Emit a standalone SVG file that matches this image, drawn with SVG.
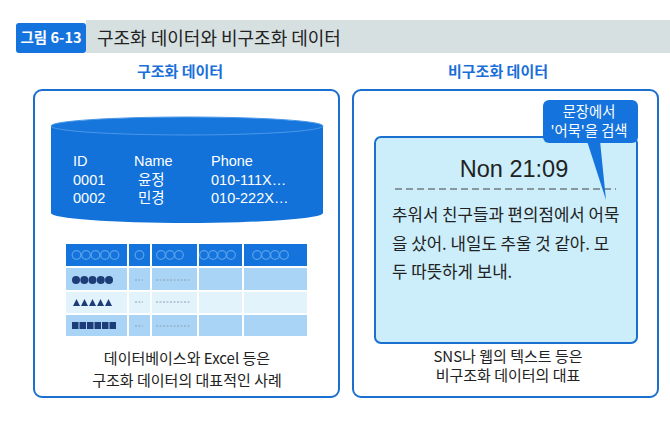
<svg xmlns="http://www.w3.org/2000/svg" width="670" height="422" viewBox="0 0 670 422">
<style>
.kr{font-family:"Noto Sans CJK KR","Liberation Sans",sans-serif;}
.lat{font-family:"Liberation Sans","Noto Sans CJK KR",sans-serif;}
.panel{fill:#ffffff;stroke:#1a6fcf;stroke-width:2;}
.sub{font-size:15px;font-weight:bold;fill:#1a6fd8;text-anchor:middle;}
.cap{font-size:15px;fill:#222;text-anchor:middle;}
.cyl{font-size:14.5px;fill:#ffffff;}
.hc{fill:none;stroke:#5aa2ea;stroke-width:1.2;}
.nav{fill:#1c3d78;}
.dash{stroke:#8aa0b4;stroke-width:1;stroke-dasharray:2 1.5;}
.body{font-size:16.8px;fill:#222;}
</style>
<rect x="0" y="0" width="670" height="422" fill="#ffffff"/>
<g id="title">
<rect x="86" y="20" width="584" height="33" fill="#d6e0e1"/>
<rect x="16" y="23" width="70" height="30" rx="3" fill="#1473dc"/>
<text x="51" y="43" class="kr" font-size="14.5" font-weight="bold" fill="#fff" text-anchor="middle">그림 6-13</text>
<text x="97" y="45" class="kr" font-size="18" fill="#222">구조화 데이터와 비구조화 데이터</text>
</g>
<g id="structured">
<text x="180" y="77" class="kr sub">구조화 데이터</text>
<rect x="34" y="90" width="305" height="307" rx="8" class="panel"/>
<g id="database">
<path d="M51,126 L51,213 A136,10 0 0 0 323,213 L323,126 Z" fill="#1272d9"/>
<ellipse cx="187" cy="126" rx="136" ry="9" fill="#1676dc" stroke="#4a98e8" stroke-width="1"/>
<text class="lat cyl"><tspan x="73" y="166">ID</tspan><tspan x="73" y="185">0001</tspan><tspan x="73" y="203">0002</tspan></text>
<text class="lat cyl"><tspan x="134" y="166">Name</tspan><tspan x="138" y="185">윤정</tspan><tspan x="138" y="203">민경</tspan></text>
<text class="lat cyl"><tspan x="211" y="166">Phone</tspan><tspan x="211" y="185">010-111X…</tspan><tspan x="211" y="203">010-222X…</tspan></text>
</g>
<g id="spreadsheet">
<rect x="66" y="244" width="61" height="22" fill="#1473dc"/>
<rect x="129" y="244" width="21" height="22" fill="#1473dc"/>
<rect x="152" y="244" width="45" height="22" fill="#1473dc"/>
<rect x="199" y="244" width="43" height="22" fill="#1473dc"/>
<rect x="244" y="244" width="63" height="22" fill="#1473dc"/>
<g fill="#a9d4f5">
<rect x="66" y="268" width="61" height="22"/><rect x="129" y="268" width="21" height="22"/><rect x="152" y="268" width="45" height="22"/><rect x="199" y="268" width="43" height="22"/><rect x="244" y="268" width="63" height="22"/>
<rect x="66" y="315" width="61" height="21"/><rect x="129" y="315" width="21" height="21"/><rect x="152" y="315" width="45" height="21"/><rect x="199" y="315" width="43" height="21"/><rect x="244" y="315" width="63" height="21"/>
</g>
<g fill="#e3f3fc">
<rect x="66" y="292" width="61" height="21"/><rect x="129" y="292" width="21" height="21"/><rect x="152" y="292" width="45" height="21"/><rect x="199" y="292" width="43" height="21"/><rect x="244" y="292" width="63" height="21"/>
</g>
<g class="hc">
<circle cx="76.5" cy="255" r="4.3"/><circle cx="86" cy="255" r="4.3"/><circle cx="95.5" cy="255" r="4.3"/><circle cx="105" cy="255" r="4.3"/><circle cx="114.5" cy="255" r="4.3"/>
<circle cx="139.5" cy="255" r="4.3"/>
<circle cx="161" cy="255" r="4.3"/><circle cx="170" cy="255" r="4.3"/><circle cx="179" cy="255" r="4.3"/>
<circle cx="204" cy="255" r="4.3"/><circle cx="213" cy="255" r="4.3"/><circle cx="222" cy="255" r="4.3"/><circle cx="231" cy="255" r="4.3"/>
<circle cx="257" cy="255" r="4.3"/><circle cx="266" cy="255" r="4.3"/><circle cx="275" cy="255" r="4.3"/><circle cx="284" cy="255" r="4.3"/>
</g>
<g class="nav">
<circle cx="76" cy="280" r="4"/><circle cx="84.3" cy="280" r="4"/><circle cx="92.5" cy="280" r="4"/><circle cx="100.8" cy="280" r="4"/><circle cx="109" cy="280" r="4"/>
<polygon points="73,306 76.5,299 80,306"/><polygon points="81,306 84.5,299 88,306"/><polygon points="89,306 92.5,299 96,306"/><polygon points="97,306 100.5,299 104,306"/><polygon points="105,306 108.5,299 112,306"/>
<rect x="72" y="322" width="6.5" height="7"/><rect x="79.5" y="322" width="6.5" height="7"/><rect x="87" y="322" width="6.5" height="7"/><rect x="94.5" y="322" width="6.5" height="7"/><rect x="102" y="322" width="6.5" height="7"/><rect x="109.5" y="322" width="6.5" height="7"/>
</g>
<g class="dash">
<line x1="135" y1="280" x2="143" y2="280"/><line x1="156" y1="280" x2="191" y2="280"/>
<line x1="135" y1="302" x2="143" y2="302"/><line x1="156" y1="302" x2="191" y2="302"/>
<line x1="135" y1="326" x2="143" y2="326"/><line x1="156" y1="326" x2="191" y2="326"/>
</g>
</g>
<text x="187" y="364" class="kr cap">데이터베이스와 Excel 등은</text>
<text x="187" y="386" class="kr cap">구조화 데이터의 대표적인 사례</text>
</g>
<g id="unstructured">
<text x="498" y="77" class="kr sub">비구조화 데이터</text>
<rect x="353" y="90" width="305" height="307" rx="8" class="panel"/>
<g id="sns-post">
<rect x="375" y="137" width="262" height="206" rx="6" fill="#cbeefa" stroke="#1a6fcf" stroke-width="2"/>
<text x="514" y="177" class="lat" font-size="23.5" fill="#222" text-anchor="middle">Non 21:09</text>
<line x1="395" y1="189" x2="616" y2="189" stroke="#444" stroke-width="1.2" stroke-dasharray="7 4"/>
<text x="392" y="221" class="kr body">추워서 친구들과 편의점에서 어묵</text>
<text x="392" y="250" class="kr body">을 샀어. 내일도 추울 것 같아. 모</text>
<text x="392" y="278" class="kr body">두 따뜻하게 보내.</text>
</g>
<text x="508" y="362" class="kr cap">SNS나 웹의 텍스트 등은</text>
<text x="508" y="381" class="kr cap">비구조화 데이터의 대표</text>
</g>
<g id="callout">
<rect x="543" y="100" width="95" height="43" rx="6" fill="#1473dc"/>
<polygon points="587,141 600,141 606,200" fill="#1473dc"/>
<text x="589" y="117" class="kr" font-size="14.3" fill="#fff" text-anchor="middle">문장에서</text>
<text x="589" y="136" class="kr" font-size="14.3" fill="#fff" text-anchor="middle">'어묵'을 검색</text>
</g>
<g id="connectors"></g>
</svg>
